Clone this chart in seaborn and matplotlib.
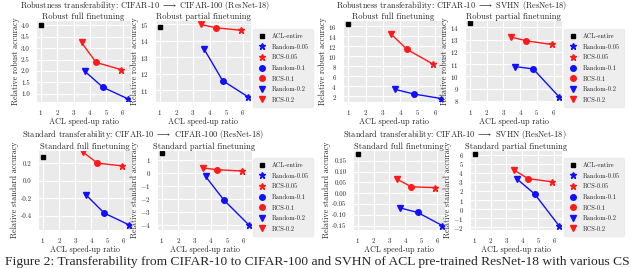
import numpy as np
import pandas as pd
import matplotlib
matplotlib.use("Agg")
import matplotlib.pyplot as plt
from matplotlib.lines import Line2D
import seaborn as sns

# speed-up ratios, order: 0.2, 0.1, 0.05
ratios = ["0.2", "0.1", "0.05"]
rcs_x = [3.48, 4.37, 5.88]
rand_x = [3.67, 4.78, 6.34]
acl_x = 1

# relative accuracy per panel: (acl, rcs, random)
rob_full_c100 = (4.0, [3.25, 2.37, 2.06], [1.99, 1.28, 0.76])
rob_part_c100 = (14.85, [15.0, 14.8, 14.65], [13.5, 11.6, 10.6])
rob_full_svhn = (16.5, [14.4, 11.4, 8.4], [3.35, 2.4, 1.5])
rob_part_svhn = (14.33, [13.2, 12.9, 12.6], [10.8, 10.6, 8.3])
std_full_c100 = (0.275, [0.326, 0.2, 0.17], [-0.162, -0.367, -0.504])
std_part_c100 = (1.48, [0.36, 0.22, 0.12], [-0.3, -2.1, -4.05])
std_full_svhn = (0.182, [0.065, 0.03, 0.026], [-0.068, -0.089, -0.15])
std_part_svhn = (6.07, [4.28, 3.35, 3.0], [3.3, 1.65, -1.9])

sns.set_style("darkgrid", {"axes.facecolor": "#EAEAEA", "grid.color": "white"})
plt.rcParams["font.family"] = "serif"
plt.rcParams["font.serif"] = ["cmr10", "DejaVu Serif"]
plt.rcParams["mathtext.fontset"] = "cm"
plt.rcParams["axes.formatter.use_mathtext"] = True
plt.rcParams["axes.unicode_minus"] = True
plt.rcParams["grid.linewidth"] = 0.8

fig = plt.figure(figsize=(6.4, 2.68), dpi=100)
W, H = 640, 268


def px_axes(l, t, r, b):
    return fig.add_axes([l / W, 1 - b / H, (r - l) / W, (b - t) / H])


markers = {"0.2": "v", "0.1": "o", "0.05": "*"}
msize = {"0.2": 4, "0.1": 4, "0.05": 5}
RED, BLUE = "#ff1a1a", "#1010ff"


def draw(ax, data, title, ylabel, ylim, yticks):
    acl, rcs, rnd = data
    for xs, ys, col in [(rcs_x, rcs, RED), (rand_x, rnd, BLUE)]:
        df = pd.DataFrame({"x": xs, "y": ys})
        sns.lineplot(data=df, x="x", y="y", color=col, sort=False, lw=1.0, ax=ax)
        for xv, yv, r in zip(xs, ys, ratios):
            ax.plot(xv, yv, marker=markers[r], color=col, ms=msize[r], ls="none")
    ax.plot(acl_x, acl, marker="s", color="black", ms=3.5, ls="none")
    ax.set_xlim(0.7, 6.5)
    ax.set_xticks(range(1, 7))
    ax.set_ylim(*ylim)
    ax.set_yticks(yticks)
    ax.set_title(title, fontsize=6.1, pad=1.0)
    ax.set_xlabel("ACL speed-up ratio", fontsize=5.8, labelpad=0.5)
    ax.set_ylabel(ylabel, fontsize=5.8, labelpad=1)
    ax.tick_params(labelsize=5, pad=1)


ax = px_axes(36, 20, 131, 102)
draw(ax, rob_full_c100, "Robust full finetuning", "Relative robust accuracy",
     (0.63, 4.24), np.arange(1.0, 4.01, 0.5))
ax.yaxis.set_major_formatter(matplotlib.ticker.FormatStrFormatter("%.1f"))
ax = px_axes(155, 20, 251, 102)
draw(ax, rob_part_c100, "Robust partial finetuning", "Relative robust accuracy",
     (10.3, 15.27), [11, 12, 13, 14, 15])
ax = px_axes(343, 20, 444, 102)
draw(ax, rob_full_svhn, "Robust full finetuning", "Relative robust accuracy",
     (0.8, 17.3), range(2, 17, 2))
ax = px_axes(465, 20, 562, 102)
draw(ax, rob_part_svhn, "Robust partial finetuning", "Relative robust accuracy",
     (7.9, 14.6), range(8, 15))

ax = px_axes(38, 150, 132, 230)
draw(ax, std_full_c100, "Standard full finetuning", "Relative standard accuracy",
     (-0.56, 0.35), [-0.4, -0.2, 0.0, 0.2])
ax.yaxis.set_major_formatter(matplotlib.ticker.FormatStrFormatter("%.1f"))
ax = px_axes(157, 150, 252, 230)
draw(ax, std_part_c100, "Standard partial finetuning", "Relative standard accuracy",
     (-4.4, 1.73), range(-4, 2))
ax = px_axes(353, 150, 445, 230)
draw(ax, std_full_svhn, "Standard full finetuning", "Relative standard accuracy",
     (-0.17, 0.2), np.arange(-0.15, 0.151, 0.05))
ax.yaxis.set_major_formatter(matplotlib.ticker.FormatStrFormatter("%.2f"))
ax = px_axes(470, 150, 562, 230)
draw(ax, std_part_svhn, "Standard partial finetuning", "Relative standard accuracy",
     (-2.3, 6.5), range(-2, 7))

arrow = r"$\longrightarrow$"
row_titles = [
    (145, 5.0, f"Robustness transferability: CIFAR-10 {arrow} CIFAR-100 (ResNet-18)"),
    (452, 5.0, f"Robustness transferability: CIFAR-10 {arrow} SVHN (ResNet-18)"),
    (143, 134.5, f"Standard transferability: CIFAR-10 {arrow} CIFAR-100 (ResNet-18)"),
    (455, 134.5, f"Standard transferability: CIFAR-10 {arrow} SVHN (ResNet-18)"),
]
for tx, ty, s in row_titles:
    fig.text(tx / W, 1 - ty / H, s, ha="center", va="center", fontsize=6.0)

handles = [Line2D([], [], marker="s", color="black", ls="none", ms=3.5, label="ACL-entire")]
for r in ["0.05", "0.1", "0.2"]:
    handles.append(Line2D([], [], marker=markers[r], color=BLUE, ls="none",
                          ms=msize[r], label=f"Random-{r}"))
    handles.append(Line2D([], [], marker=markers[r], color=RED, ls="none",
                          ms=msize[r], label=f"RCS-{r}"))

for lx, cy in [(253, 68), (564, 68), (253, 197), (564, 197)]:
    fig.legend(handles=handles, loc="center left", bbox_to_anchor=(lx / W, 1 - cy / H),
               fontsize=4.6, frameon=True, facecolor="#EAEAEA", edgecolor="#EAEAEA",
               handletextpad=0.8, labelspacing=0.75, borderpad=0.6, handlelength=1.6,
               borderaxespad=0)

fig.text(5 / W, 1 - 261.5 / H,
         "Figure 2: Transferability from CIFAR-10 to CIFAR-100 and SVHN of ACL pre-trained ResNet-18 with various CS",
         ha="left", va="center", fontsize=9.7, family="Liberation Serif")

fig.savefig("out.png", dpi=100)
